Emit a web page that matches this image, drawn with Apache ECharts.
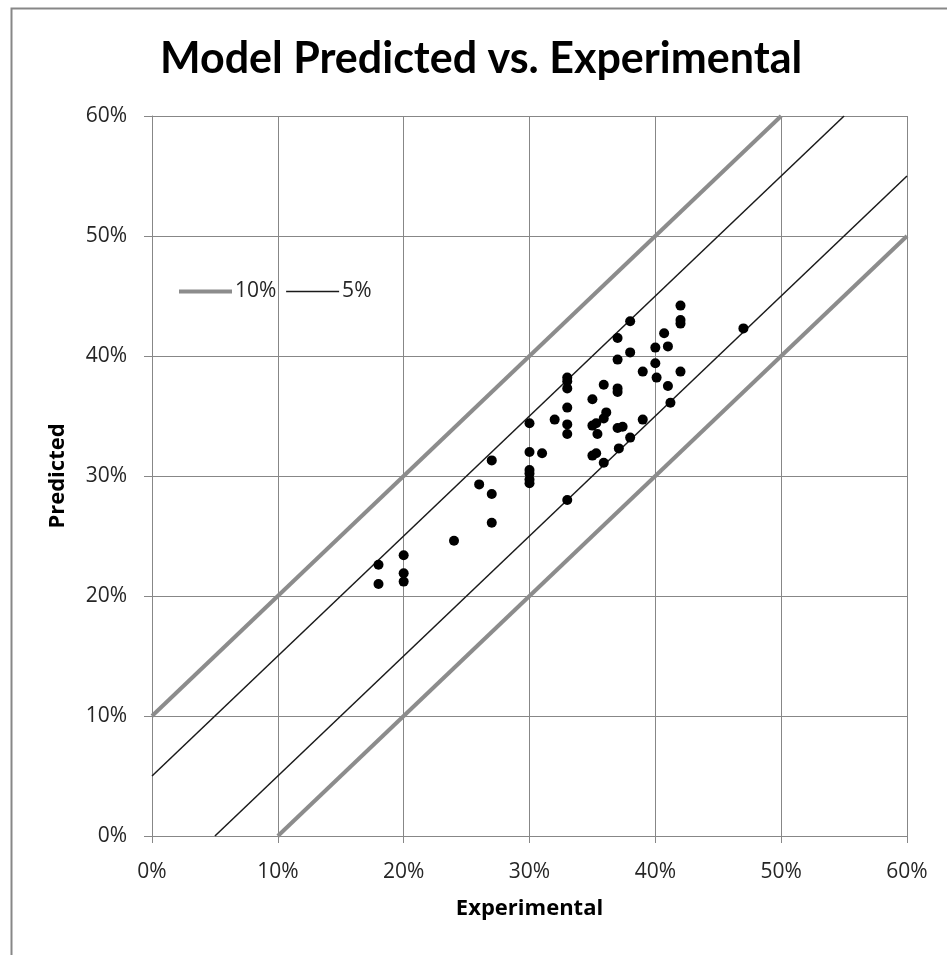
<!DOCTYPE html>
<html>
<head>
<meta charset="utf-8">
<title>Model Predicted vs. Experimental</title>
<script src="https://cdn.jsdelivr.net/npm/echarts@6/dist/echarts.min.js"></script>
<style>
  html, body { margin: 0; padding: 0; background: #fff; }
  #chart { width: 947px; height: 955px; }
</style>
</head>
<body>
<div id="chart"></div>
<script>
// experimental vs predicted, in percent
const experimental = [
  18, 18, 20, 20, 20, 24, 26, 27, 27, 27,
  30, 30, 30, 30, 30, 30, 31, 32,
  33, 33, 33, 33, 33, 33, 33,
  35, 35, 35.3, 35.4, 35, 35.3, 35.9, 36.1, 35.9, 35.9,
  37, 37, 37, 37, 37, 37.4, 37.1,
  38, 38, 38, 39, 39,
  40, 40, 40.1, 40.7, 41, 41, 41.2,
  42, 42, 42, 42, 47
];
const predicted = [
  22.6, 21.0, 23.4, 21.9, 21.2, 24.6, 29.3, 31.3, 28.5, 26.1,
  34.4, 32.0, 30.5, 30.2, 29.7, 29.4, 31.9, 34.7,
  38.2, 37.9, 37.3, 35.7, 34.3, 33.5, 28.0,
  36.4, 34.2, 34.4, 33.5, 31.7, 31.9, 37.6, 35.3, 34.8, 31.1,
  41.5, 39.7, 37.3, 37.0, 34.0, 34.1, 32.3,
  42.9, 40.3, 33.2, 38.7, 34.7,
  40.7, 39.4, 38.2, 41.9, 40.8, 37.5, 36.1,
  44.2, 43.0, 42.7, 38.7, 42.3
];

// band lines (endpoints)
const band10Upper = [[0, 10], [50, 60]];
const band10Lower = [[10, 0], [60, 50]];
const band5Upper = [[0, 5], [55, 60]];
const band5Lower = [[5, 0], [60, 55]];

const axisTicks = [0, 10, 20, 30, 40, 50, 60];

const gridColor = "#878787";
const textColor = "#262626";
const labelFont = "'Open Sans', 'Liberation Sans', sans-serif";

const points = experimental.map((x, i) => [x, predicted[i]]);

const chart = echarts.init(document.getElementById("chart"));

function bandSeries(name, data, color, width) {
  return {
    name: name,
    type: "line",
    data: data,
    showSymbol: false,
    symbol: "none",
    silent: true,
    lineStyle: { color: color, width: width },
    itemStyle: { color: color },
    z: 2,
  };
}

const option = {
  animation: false,
  backgroundColor: "#fff",
  title: {
    text: "Model Predicted vs. Experimental",
    left: 160,
    top: 38,
    padding: 0,
    textStyle: {
      fontFamily: "Lato, 'Open Sans', sans-serif",
      fontWeight: "bold",
      fontSize: 43,
      color: "#000",
    },
  },
  legend: {
    data: [
      { name: "10%", itemStyle: { opacity: 0 }, lineStyle: { width: 4, opacity: 1 } },
      { name: "5%", itemStyle: { opacity: 0 }, lineStyle: { width: 1.5, opacity: 1 } },
    ],
    left: 177,
    top: 281,
    padding: 0,
    itemWidth: 53,
    itemHeight: 14,
    itemGap: 9,
    textStyle: {
      fontFamily: labelFont,
      fontSize: 21,
      color: textColor,
      padding: [0, 0, 0, -2],
    },
  },
  grid: {
    left: 152,
    right: 40,
    top: 116,
    bottom: 119,
  },
  xAxis: {
    type: "value",
    min: axisTicks[0],
    max: axisTicks[axisTicks.length - 1],
    interval: 10,
    name: "Experimental",
    nameLocation: "middle",
    nameGap: 62,
    nameTextStyle: {
      fontFamily: labelFont,
      fontWeight: "bold",
      fontSize: 22,
      color: "#000",
    },
    axisLine: { lineStyle: { color: gridColor, width: 1 } },
    axisTick: { show: true, length: 7, lineStyle: { color: gridColor } },
    axisLabel: {
      formatter: "{value}%",
      fontFamily: labelFont,
      fontSize: 21,
      color: textColor,
      margin: 26,
    },
    splitLine: { show: true, lineStyle: { color: gridColor, width: 1 } },
  },
  yAxis: {
    type: "value",
    min: axisTicks[0],
    max: axisTicks[axisTicks.length - 1],
    interval: 10,
    name: "Predicted",
    nameLocation: "middle",
    nameGap: 83,
    nameTextStyle: {
      fontFamily: labelFont,
      fontWeight: "bold",
      fontSize: 22,
      color: "#000",
    },
    axisLine: { show: true, lineStyle: { color: gridColor, width: 1 } },
    axisTick: { show: true, length: 8, lineStyle: { color: gridColor } },
    axisLabel: {
      formatter: "{value}%",
      fontFamily: labelFont,
      fontSize: 21,
      color: textColor,
      margin: 25,
    },
    splitLine: { show: true, lineStyle: { color: gridColor, width: 1 } },
  },
  graphic: [
    {
      type: "rect",
      left: 9,
      top: 6,
      shape: { width: 945, height: 948 },
      style: { fill: "none", stroke: gridColor, lineWidth: 2 },
      silent: true,
      z: -1,
    },
  ],
  series: [
    bandSeries("10%", band10Upper, "#8c8c8c", 4),
    bandSeries("10%", band10Lower, "#8c8c8c", 4),
    bandSeries("5%", band5Upper, "#1a1a1a", 1.5),
    bandSeries("5%", band5Lower, "#1a1a1a", 1.5),
    {
      name: "data",
      type: "scatter",
      data: points,
      symbol: "circle",
      symbolSize: 10,
      itemStyle: { color: "#000", opacity: 1 },
      z: 5,
    },
  ],
};

chart.setOption(option);
</script>
</body>
</html>
